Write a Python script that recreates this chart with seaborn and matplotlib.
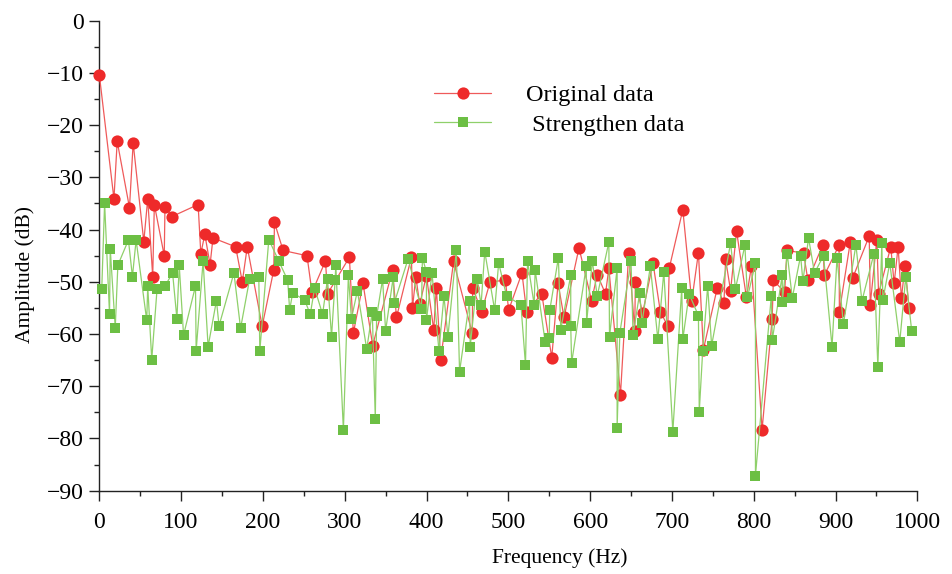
import matplotlib
matplotlib.use("Agg")
import matplotlib.pyplot as plt
import seaborn as sns
import pandas as pd
from matplotlib.ticker import MultipleLocator

orig_freq = [0, 17.9, 21.9, 36.9, 41.4, 54.4, 59.2, 65.3, 67.3, 79.4, 80.3, 88.8,
             120.8, 124.1, 129.0, 135.4, 139.0, 166.7, 174.8, 180.9, 199.1, 213.3,
             214.1, 224.7, 253.9, 260.0, 276.5, 279.0, 305.7, 310.6, 322.4, 334.2,
             358.5, 363.3, 381.6, 382.8, 386.9, 391.7, 399.9, 408.8, 412.0, 417.3,
             433.1, 455.8, 456.5, 467.5, 477.7, 496.4, 500.4, 516.7, 522.3, 540.9,
             553.1, 560.8, 568.1, 586.4, 601.8, 608.7, 618.8, 622.9, 637.1, 647.2,
             654.5, 655.3, 664.2, 676.8, 685.8, 695.0, 696.7, 713.3, 724.2, 732.4,
             738.4, 755.5, 763.6, 765.6, 771.7, 779.0, 791.1, 797.2, 810.2, 822.5,
             824.0, 837.8, 840.6, 860.9, 866.2, 884.3, 886.4, 904.3, 904.7, 918.1,
             920.9, 941.2, 942.4, 950.5, 952.6, 967.5, 971.6, 976.5, 980.5, 985.0,
             989.9]
orig_amp = [-10.3, -34.1, -23.1, -35.8, -23.4, -42.3, -34.1, -49.0, -35.2, -45.0, -35.6, -37.5,
            -35.2, -44.6, -40.9, -46.7, -41.6, -43.3, -50.0, -43.3, -58.5, -47.7,
            -38.6, -44.0, -45.0, -52.0, -46.0, -52.3, -45.3, -59.8, -50.3, -62.2,
            -47.7, -56.8, -45.2, -55.1, -49.0, -54.3, -48.8, -59.2, -51.1, -64.9,
            -46.1, -59.8, -51.2, -55.7, -50.0, -49.7, -55.4, -48.3, -55.7, -52.3,
            -64.5, -50.3, -56.8, -43.5, -53.6, -48.6, -52.3, -47.4, -71.6, -44.5,
            -59.4, -50.0, -56.0, -46.3, -55.7, -58.5, -47.4, -36.2, -53.7, -44.4,
            -63.0, -51.1, -54.1, -45.7, -51.7, -40.3, -53.0, -47.0, -78.3, -57.1,
            -49.7, -52.0, -44.0, -44.5, -49.7, -43.0, -48.7, -43.0, -55.7, -42.3,
            -49.3, -41.2, -54.4, -41.9, -52.3, -43.3, -50.3, -43.3, -53.1, -46.9,
            -55.1]

str_freq = [3.0, 6.5, 12.5, 13.4, 19.5, 22.7, 35.6, 40.5, 45.0, 58.0, 59.2, 64.1,
            70.6, 80.3, 89.6, 94.9, 97.7, 103.0, 117.6, 118.4, 126.9, 133.0, 143.2,
            146.4, 164.6, 172.7, 183.7, 195.0, 196.2, 207.2, 219.4, 230.3, 232.7,
            236.4, 251.0, 257.9, 263.2, 272.9, 279.0, 283.9, 288.3, 289.1, 298.4,
            304.5, 308.2, 315.5, 326.9, 333.7, 337.4, 339.0, 346.3, 350.0, 359.3,
            360.5, 377.5, 393.8, 395.0, 399.9, 399.9, 406.7, 415.2, 421.3, 426.2,
            436.4, 440.4, 452.6, 453.4, 461.9, 466.7, 471.2, 483.3, 488.2, 497.9,
            515.4, 521.0, 523.5, 531.6, 532.8, 545.0, 549.9, 550.7, 561.2, 564.1,
            576.3, 576.3, 577.4, 595.3, 595.7, 602.6, 608.7, 622.9, 623.7, 633.0,
            633.0, 636.3, 650.0, 652.5, 660.6, 663.4, 673.6, 682.8, 690.1, 701.1,
            712.0, 713.3, 721.0, 732.4, 733.4, 737.6, 743.7, 748.5, 771.7, 777.7,
            789.2, 792.3, 802.1, 802.1, 821.5, 822.7, 834.9, 834.9, 841.0, 847.1,
            857.3, 860.1, 867.0, 874.3, 885.3, 895.7, 901.8, 909.6, 924.9, 932.2,
            946.8, 951.7, 956.6, 957.8, 966.3, 978.5, 985.8, 993.1]
str_amp = [-51.4, -34.9, -56.2, -43.7, -58.8, -46.8, -42.0, -49.0, -42.0, -57.4, -50.8, -64.9,
           -51.4, -50.8, -48.3, -57.1, -46.8, -60.2, -50.8, -63.2, -46.0, -62.4, -53.6,
           -58.4, -48.3, -58.9, -49.5, -49.0, -63.3, -41.9, -46.0, -49.7, -55.4,
           -52.1, -53.5, -56.2, -51.2, -56.2, -49.5, -60.5, -49.6, -46.8, -78.4,
           -48.7, -57.1, -51.7, -62.9, -55.8, -76.3, -56.6, -49.5, -59.4, -49.1,
           -54.1, -45.6, -55.2, -45.4, -48.1, -57.4, -48.3, -63.2, -52.7, -60.5,
           -44.0, -67.2, -53.6, -62.4, -49.5, -54.4, -44.2, -55.4, -46.4, -52.7,
           -54.4, -65.9, -46.0, -54.4, -47.7, -61.5, -60.8, -55.4, -45.4, -59.2,
           -48.7, -58.5, -65.5, -47.0, -57.9, -46.0, -52.7, -42.4, -60.5, -47.4,
           -78.0, -59.8, -46.0, -60.2, -52.1, -57.9, -47.0, -61.0, -48.1, -78.7,
           -51.2, -61.0, -52.3, -56.5, -74.9, -63.2, -50.8, -62.2, -42.6, -51.3,
           -43.0, -53.0, -46.4, -87.1, -52.7, -61.1, -48.7, -53.9, -44.7, -53.1,
           -45.0, -49.9, -41.6, -48.3, -45.0, -62.4, -45.4, -58.1, -42.9, -53.7,
           -44.7, -66.3, -42.6, -53.5, -46.4, -61.5, -49.1, -59.4]

x_ticks = [0, 100, 200, 300, 400, 500, 600, 700, 800, 900, 1000]
y_ticks = [0, -10, -20, -30, -40, -50, -60, -70, -80, -90]

sns.set_theme(style="ticks")
plt.rcParams['font.family'] = ['Liberation Serif', 'DejaVu Serif']
plt.rcParams['text.color'] = 'black'
plt.rcParams['axes.labelcolor'] = 'black'

fig = plt.figure(figsize=(9.52, 5.74), dpi=100)
ax = fig.add_axes([0.1043, 0.1451, 0.8593, 0.8188])

df_o = pd.DataFrame({"f": orig_freq, "a": orig_amp})
df_s = pd.DataFrame({"f": str_freq, "a": str_amp})

red = "#ee2a2a"
green = "#6cbf44"

sns.lineplot(data=df_o, x="f", y="a", ax=ax, sort=False, estimator=None,
             color="#ef5a5a", linewidth=0.9, marker="o", markersize=8.8,
             markerfacecolor=red, markeredgecolor=red, markeredgewidth=0,
             label="Original data", clip_on=False, zorder=3)
sns.lineplot(data=df_s, x="f", y="a", ax=ax, sort=False, estimator=None,
             color="#8fd06a", linewidth=0.9, marker="s", markersize=7.8,
             markerfacecolor=green, markeredgecolor=green, markeredgewidth=0,
             label=" Strengthen data", clip_on=False, zorder=4)

ax.set_xlim(0, 1000)
ax.set_ylim(-90, 0)
ax.set_xticks(x_ticks)
ax.set_yticks(y_ticks)
ax.xaxis.set_minor_locator(MultipleLocator(50))
ax.yaxis.set_minor_locator(MultipleLocator(5))
for s in ["top", "right"]:
    ax.spines[s].set_visible(False)
for s in ["left", "bottom"]:
    ax.spines[s].set_linewidth(1.0)
    ax.spines[s].set_color("#222222")
ax.tick_params(which="major", direction="out", length=7, width=1.0,
               labelsize=17, colors="#222222", labelcolor="black")
ax.tick_params(which="minor", direction="out", length=3.6, width=1.0, colors="#222222")
ax.tick_params(axis="x", which="major", pad=8.5)
ax.tick_params(axis="y", which="major", pad=4)

ax.set_xlabel("Frequency (Hz)", fontsize=15.5, color="black")
ax.set_ylabel("Amplitude (dB)", fontsize=15.5, color="black")
ax.xaxis.set_label_coords(0.563, -0.122)
ax.yaxis.set_label_coords(-0.078, 0.459)

leg = ax.legend(loc="upper left", bbox_to_anchor=(434 / 952, 1 - 84 / 574),
                bbox_transform=fig.transFigure, frameon=False, fontsize=17.5,
                handlelength=2.35, handletextpad=1.45, labelspacing=0.32,
                borderpad=0, borderaxespad=0)
for t in leg.get_texts():
    t.set_color("black")

fig.savefig("out.png", dpi=100)
